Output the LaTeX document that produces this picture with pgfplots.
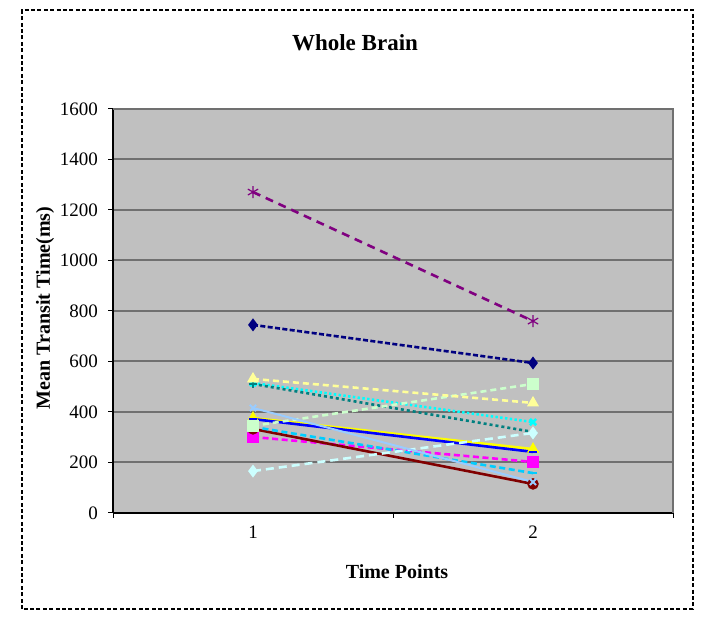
\documentclass[border=0pt]{standalone}
\usepackage{fontspec}
\setmainfont{Liberation Serif}
\usepackage{pgfplots}
\pgfplotsset{compat=1.18}
\definecolor{s1}{HTML}{000080}
\definecolor{s2}{HTML}{FF00FF}
\definecolor{s3}{HTML}{FFFF00}
\definecolor{s4}{HTML}{00FFFF}
\definecolor{s5}{HTML}{800080}
\definecolor{s6}{HTML}{800000}
\definecolor{s7}{HTML}{008080}
\definecolor{s8}{HTML}{0000FF}
\definecolor{s9}{HTML}{00CCFF}
\definecolor{s10}{HTML}{CCFFFF}
\definecolor{s11}{HTML}{CCFFCC}
\definecolor{s12}{HTML}{FFFF99}
\definecolor{s13}{HTML}{99CCFF}
\definecolor{plotbg}{HTML}{C0C0C0}
\definecolor{gridc}{HTML}{707070}
\begin{document}
\begin{tikzpicture}[x=1pt,y=1pt]
\path[use as bounding box] (0,0) rectangle (351,309.5);
\draw[black, line width=0.6pt, dash pattern=on 2pt off 1.2pt] (11,5) rectangle (346.5,304.5);
\begin{axis}[
  at={(56.5pt,53pt)}, anchor=south west,
  scale only axis, width=280pt, height=202pt,
  xmin=0.5, xmax=2.5, ymin=0, ymax=1600,
  ytick={0,200,...,1600},
  xtick={0.5,1.5,2.5}, xticklabels={},
  extra x ticks={1,2}, extra x tick labels={1,2},
  extra x tick style={major tick length=0pt, grid=none},
  tick align=outside, tick pos=left,
  major tick length=2.5pt,
  tick style={black, line width=0.5pt},
  ymajorgrids, grid style={gridc, line width=1pt},
  axis background/.style={fill=plotbg},
  axis x line*=bottom, axis y line*=left,
  axis line style={black, line width=0.7pt},
  ticklabel style={font=\fontsize{9.5}{11}\selectfont},
  /pgf/number format/assume math mode=true,
  /pgf/number format/1000 sep={},
  yticklabel style={xshift=-1.5pt},
  xticklabel style={yshift=-3pt},
  clip=false,
  every axis plot/.append style={line width=1.3pt, mark size=2.2pt, mark options={solid}},
]
\draw[gridc, line width=1pt] (axis cs:0.5,1600) -- (axis cs:2.5,1600) -- (axis cs:2.5,0);
\addplot[s1, dash pattern=on 2.5pt off 1.2pt, mark=diamond*] coordinates {(1,745) (2,594)};
\addplot[s2, dash pattern=on 3pt off 1.8pt, mark=square*] coordinates {(1,301) (2,202)};
\addplot[s3, mark=triangle*] coordinates {(1,376) (2,253)};
\addplot[s4, dash pattern=on 1.2pt off 1.2pt, mark=x] coordinates {(1,515) (2,360)};
\addplot[s5, dash pattern=on 4pt off 3pt, mark=asterisk, mark size=3pt, mark options={solid, line width=0.6pt}] coordinates {(1,1271) (2,760)};
\addplot[s6, mark=*] coordinates {(1,333) (2,115)};
\addplot[s7, dash pattern=on 1.5pt off 1.5pt, mark=+] coordinates {(1,511) (2,321)};
\addplot[s8, mark=-] coordinates {(1,372) (2,242)};
\addplot[s9, dash pattern=on 3pt off 1.8pt, mark=-] coordinates {(1,341) (2,158)};
\addplot[s10, dash pattern=on 4pt off 2.5pt, mark=diamond*] coordinates {(1,166) (2,317)};
\addplot[s11, dash pattern=on 3pt off 2pt, mark=square*] coordinates {(1,345) (2,511)};
\addplot[s12, dash pattern=on 3pt off 2pt, mark=triangle*] coordinates {(1,531) (2,436)};
\addplot[s13, line width=1pt, mark=x] coordinates {(1,416) (2,123)};
\end{axis}
\node[font=\fontsize{11.5}{13}\selectfont\bfseries] at (177.5,288) {Whole Brain};
\node[font=\fontsize{10}{12}\selectfont\bfseries, rotate=90] at (22.5,155.5) {Mean Transit Time(ms)};
\node[font=\fontsize{10}{12}\selectfont\bfseries] at (198.5,23.5) {Time Points};
\end{tikzpicture}
\end{document}
